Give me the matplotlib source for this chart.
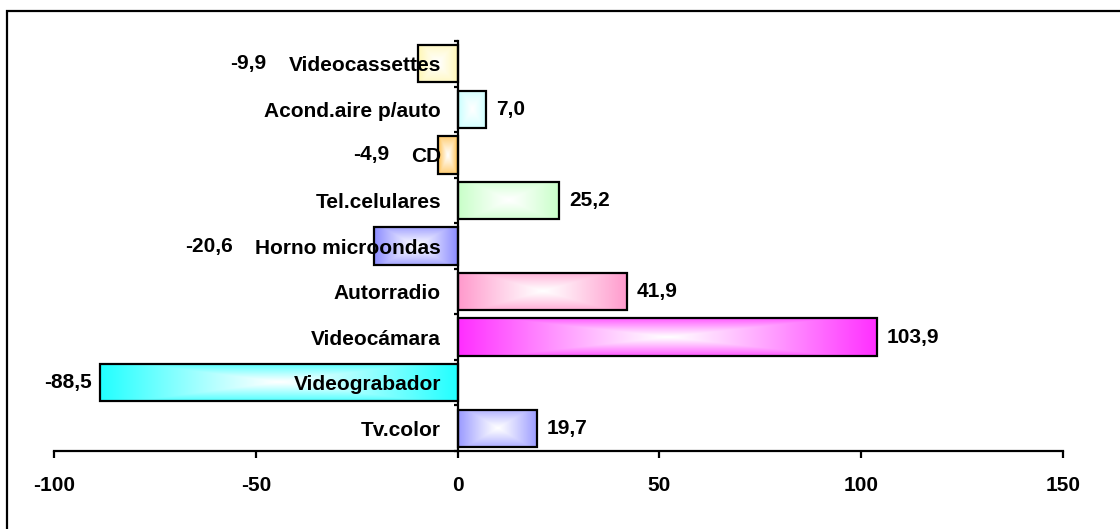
import numpy as np
import matplotlib
matplotlib.use('Agg')
import matplotlib.pyplot as plt
from matplotlib.patches import Rectangle
from matplotlib.colors import to_rgb

# bottom to top, as drawn
categories = ['Tv.color', 'Videograbador', 'Videocámara', 'Autorradio',
              'Horno microondas', 'Tel.celulares', 'CD', 'Acond.aire p/auto',
              'Videocassettes']
values = [19.7, -88.5, 103.9, 41.9, -20.6, 25.2, -4.9, 7.0, -9.9]
colors = ['#9999FF', '#22FFFF', '#FF2EFF', '#FF99CC', '#8C8CFF',
          '#C8FFC8', '#FFC04D', '#C8FFFF', '#FFF7B5']
xticks = [-100, -50, 0, 50, 100, 150]

plt.rcParams['font.family'] = ['Liberation Sans', 'DejaVu Sans']
plt.rcParams['font.weight'] = 'bold'
plt.rcParams['font.size'] = 15

W, H = 1120, 529
fig = plt.figure(figsize=(W / 100, H / 100), dpi=100)
ax = fig.add_axes([54 / W, 1 - 451 / H, (1063 - 54) / W, (451 - 41) / H])

bar_h = 0.82


def gradient_bar(ax, i, v, color):
    """Excel style 'from center' fill: white in the middle, colour at the edges"""
    c = np.array(to_rgb(color))
    u = np.linspace(-1, 1, 200)
    w = np.linspace(-1, 1, 60)
    U, V = np.meshgrid(u, w)
    t = np.clip(np.maximum(np.abs(U), 0.8 * np.abs(V)), 0, 1) ** 1.1
    img = (1 - t)[..., None] * np.ones(3) + t[..., None] * c
    x0, x1 = min(0, v), max(0, v)
    ax.imshow(img, extent=[x0, x1, i - bar_h / 2, i + bar_h / 2],
              aspect='auto', interpolation='bilinear', zorder=0)
    ax.add_patch(Rectangle((x0, i - bar_h / 2), x1 - x0, bar_h, fill=False,
                           edgecolor='black', lw=1.6, zorder=1))


for i, (v, col) in enumerate(zip(values, colors)):
    gradient_bar(ax, i, v, col)

ax.set_xlim(-100, 150)
ax.set_ylim(-0.5, len(categories) - 0.5)

# spines: y axis sits at x=0, x axis at the bottom
for s in ['top', 'right']:
    ax.spines[s].set_visible(False)
ax.spines['left'].set_position(('data', 0))
ax.spines['left'].set_linewidth(1.6)
ax.spines['bottom'].set_linewidth(1.6)

ax.set_xticks(xticks)
ax.set_xticklabels([str(x) for x in xticks])
ax.tick_params(axis='x', direction='out', length=5, width=1.6, pad=13)

# boundary ticks on the y axis, category names at the centers
ax.set_yticks(np.arange(-0.5, len(categories)))
ax.set_yticklabels([])
ax.set_yticks(np.arange(len(categories)), minor=True)
ax.set_yticklabels(categories, minor=True)
ax.tick_params(axis='y', which='major', direction='out', length=3, width=1.6)
ax.tick_params(axis='y', which='minor', length=0, pad=12)

fig.canvas.draw()
renderer = fig.canvas.get_renderer()
inv = ax.transData.inverted()
px = 100 / 403.5  # data units per pixel, roughly

labels = ax.get_yticklabels(minor=True)
for i, v in enumerate(values):
    txt = f'{abs(v):.1f}'.replace('.', ',')
    if v >= 0:
        ax.text(v + 10 * px, i, txt, ha='left', va='center')
    else:
        bb = labels[i].get_window_extent(renderer)
        text_left = inv.transform((bb.x0, 0))[0]
        if text_left > v:
            # name sits inside the bar, value goes past the bar end
            x = v - 9 * px
        else:
            x = text_left - 22 * px
        ax.text(x, i, '-' + txt, ha='right', va='center')

# frame of the chart area, cut off at right and bottom
fig.add_artist(Rectangle((7 / W, -0.5), 2, 1.5 - 10.5 / H, fill=False,
                         edgecolor='black', lw=1.6, transform=fig.transFigure))

fig.savefig('out.png', dpi=100)
